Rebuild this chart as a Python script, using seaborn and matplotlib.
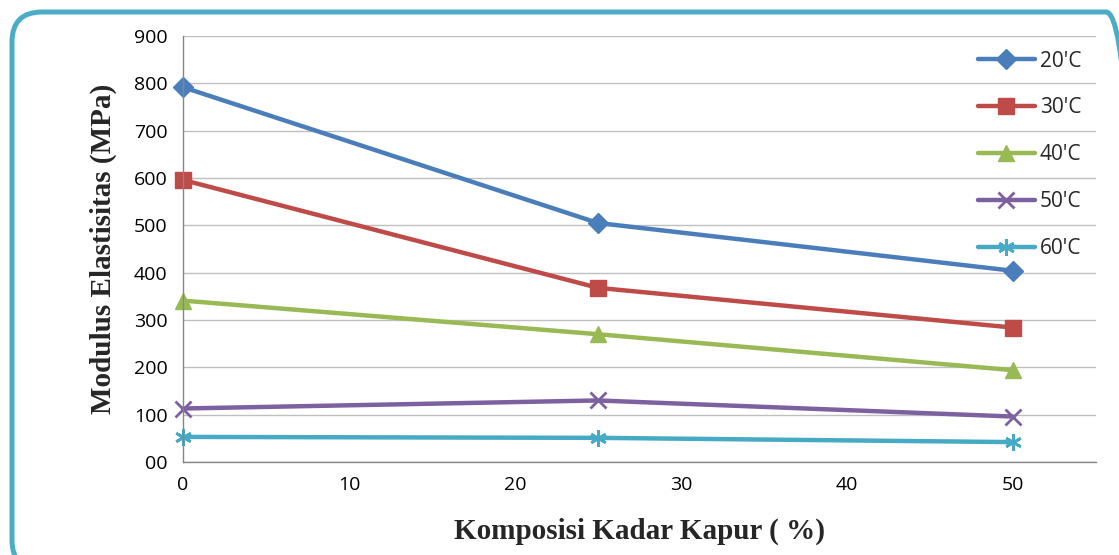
import matplotlib
matplotlib.use("Agg")
import matplotlib.pyplot as plt
from matplotlib.patches import FancyBboxPatch
from matplotlib.transforms import IdentityTransform
import seaborn as sns
import pandas as pd

# ------------------------------------------------
# DATA
# ------------------------------------------------

kadar_kapur = [0, 25, 50]

suhu_labels = ["20'C", "30'C", "40'C", "50'C", "60'C"]

modulus_20 = [792, 505, 404]
modulus_30 = [596, 368, 284]
modulus_40 = [341, 270, 194]
modulus_50 = [113, 130, 96]
modulus_60 = [53, 51, 42]

y_ticks = [0, 100, 200, 300, 400, 500, 600, 700, 800, 900]
y_tick_labels = ["00", "100", "200", "300", "400", "500", "600", "700", "800", "900"]
x_ticks = [0, 10, 20, 30, 40, 50]

# ------------------------------------------------
# STYLE
# ------------------------------------------------

sns.set_theme(style="white")
plt.rcParams["font.family"] = ["Open Sans", "DejaVu Sans"]

COLORS = ["#4A7EBB", "#BE4B48", "#98B954", "#7D60A0", "#46AAC5"]
MARKERS = ["D", "s", "^", "x", (6, 2, 0)]
MSIZES = [10, 11, 12, 11, 12]

series = [modulus_20, modulus_30, modulus_40, modulus_50, modulus_60]

fig = plt.figure(figsize=(11.19, 5.55), dpi=100)
ax = fig.add_axes([0.1635, 0.1676, 0.8159, 0.7674])

for label, values, color, marker, ms in zip(suhu_labels, series, COLORS, MARKERS, MSIZES):
    df = pd.DataFrame({"x": kadar_kapur, "y": values})
    sns.lineplot(
        data=df, x="x", y="y", ax=ax,
        color=color, linewidth=3.2, label=label,
        marker=marker, markersize=ms, clip_on=False,
        markeredgecolor=color, markeredgewidth=2 if marker in ("x", (6, 2, 0)) else 1,
    )

ax.set_xlim(0, 55)
ax.set_ylim(0, 900)
ax.set_xticks(x_ticks)
ax.set_yticks(y_ticks)
ax.set_yticklabels(y_tick_labels)
ax.tick_params(axis="both", labelsize=14, colors="#000000", length=5, width=1, direction="out")
ax.tick_params(axis="both", color="#868686")
ax.tick_params(axis="x", pad=5)
ax.tick_params(axis="y", pad=6)

ax.yaxis.grid(True, color="#BFBFBF", linewidth=1)
ax.xaxis.grid(False)
for side in ["top", "right"]:
    ax.spines[side].set_visible(False)
for side in ["left", "bottom"]:
    ax.spines[side].set_color("#868686")
    ax.spines[side].set_linewidth(1)

ax.set_xlabel("Komposisi Kadar Kapur ( %)", family="Liberation Serif",
              fontweight="bold", fontsize=21, labelpad=17)
ax.set_ylabel("Modulus Elastisitas (MPa)", family="Liberation Serif",
              fontweight="bold", fontsize=21, labelpad=12)

leg = ax.legend(loc="upper right", bbox_to_anchor=(1.0, 1.0), frameon=False,
                fontsize=15, handlelength=2.7, labelspacing=1.24,
                borderaxespad=0.3, handletextpad=0.25)

# rounded chart frame (pixel coordinates)
frame = FancyBboxPatch((12, -15), 1124, 558, transform=IdentityTransform(),
                       boxstyle="round,pad=0,rounding_size=30",
                       facecolor="none", edgecolor="#4BACC6", linewidth=3.6,
                       clip_on=False)
fig.patches.append(frame)

plt.savefig("out.png", dpi=100)
plt.close()
